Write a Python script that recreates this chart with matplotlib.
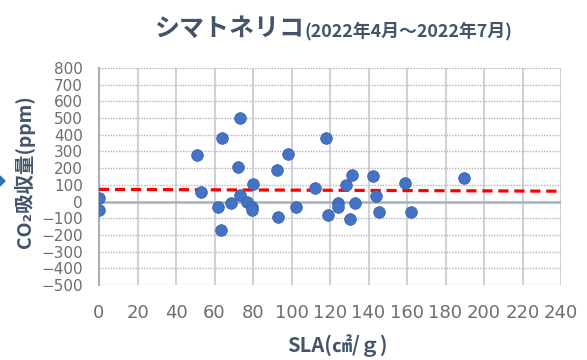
import numpy as np
import matplotlib
matplotlib.use("Agg")
import matplotlib.pyplot as plt
from matplotlib.patches import Polygon

plt.rcParams['font.family'] = ['Noto Sans CJK JP', 'DejaVu Sans']

# data (SLA cm2/g, CO2 absorption ppm)
sla = [0, 0, 51, 53, 73, 64, 72, 80, 62, 68.6, 73, 77, 79.6, 79.6, 63.4,
       92.3, 98.3, 92.8, 102.3, 112.2, 117.8, 118.8, 124.3, 124, 128.3,
       131.3, 133, 130.4, 142.4, 143.8, 145.6, 158.8, 162, 189.6]
co2 = [20, -50, 278, 59, 498, 382, 208, 105, -31, -11, 39, -1, -31, -51, -171,
       189, 284, -91, -31, 79, 382, -81, -7, -31, 99,
       159, -7, -107, 153, 35, -65, 109, -65, 143]

# linear trend line
trend_x = [0, 240]
trend_y = [73, 62]

x_ticks = list(range(0, 241, 20))
y_ticks = list(range(-500, 801, 100))

title_main = "シマトネリコ"
title_sub = "(2022年4月～2022年7月)"
xlabel = "SLA(㎠/ｇ)"
ylabel = "CO₂吸収量(ppm)"

fig = plt.figure(figsize=(5.87, 3.60), dpi=100)
ax = fig.add_axes([99/587, 1-285/360, 462/587, (285-68)/360])

ax.set_xlim(0, 240)
ax.set_ylim(-500, 800)

# grid
for xv in x_ticks[1:]:
    ax.axvline(xv, color='#c9cdd3', lw=1.3, zorder=1)
for yv in y_ticks:
    if yv != 0:
        ax.axhline(yv, color='#b5b5b5', lw=1.0, ls=(0, (1, 1)), zorder=1)
ax.axhline(0, color='#a9b0ba', lw=1.8, zorder=2)

for s in ['top', 'right', 'bottom']:
    ax.spines[s].set_visible(False)
ax.spines['left'].set_color('#a9b0ba')
ax.spines['left'].set_linewidth(1.5)

ax.plot(trend_x, trend_y, color='#ff0000', lw=2.3, ls=(0, (3.2, 1.8)), zorder=3)

ax.scatter(sla, co2, s=70, color='#4472c4', edgecolor='#3a64b0', linewidth=0.6, zorder=4)

ax.set_xticks(x_ticks)
ax.set_yticks(y_ticks)
ax.tick_params(length=0)
ax.tick_params(axis='x', pad=14, labelsize=13, labelcolor='#6e6e6e')
ax.tick_params(axis='y', pad=11.5, labelsize=11, labelcolor='#6e6e6e')
for lab in ax.get_xticklabels() + ax.get_yticklabels():
    lab.set_fontfamily(['Liberation Sans Narrow', 'DejaVu Sans'])

tcol = '#44546a'
fig.text(155/587, 1-29/360, title_main, fontsize=18, fontweight='bold', color=tcol,
         ha='left', va='center')
fig.text(305/587, 1-31/360, title_sub, fontsize=12.9, fontweight='bold', color=tcol,
         ha='left', va='center')

fig.text(337/587, 1-346/360, xlabel, fontsize=14.5, fontweight='bold', color=tcol,
         ha='center', va='center')
fig.text(25/587, 1-172/360, ylabel, fontsize=14, fontweight='bold', color=tcol,
         ha='center', va='center', rotation=90)

# small blue arrow at left edge
fig.add_artist(Polygon([[0/587, 1-176/360], [5/587, 1-181/360], [0/587, 1-186/360]],
                       closed=True, transform=fig.transFigure, color='#2e75b6'))

fig.savefig('out.png', dpi=100)
